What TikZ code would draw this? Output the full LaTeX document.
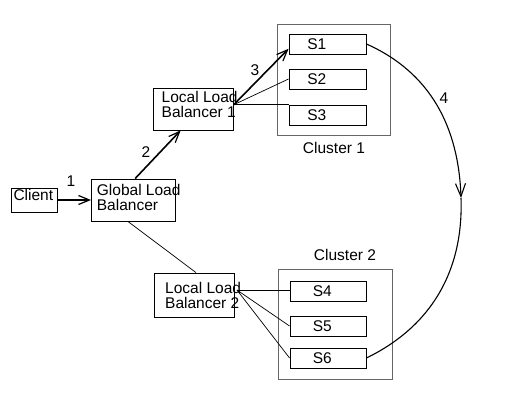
\documentclass[tikz,border=0pt]{standalone}
\usepackage{fontspec}
\setmainfont{Liberation Sans}
\usetikzlibrary{arrows.meta,calc}
\begin{document}
\begin{tikzpicture}[x=1pt,y=-1pt,
  every node/.style={font=\fontsize{15.5}{15}\selectfont},
  box/.style={draw=black,line width=0.9pt,inner sep=0pt,minimum width=#1},
  clbox/.style={draw=black!60,line width=1pt,inner sep=0pt},
  txt/.style={inner sep=0pt,align=left,anchor=north west},
  thickarr/.style={line width=1.6pt,-{Straight Barb[length=11pt,width=9pt,line width=1.2pt]}},
  thin/.style={line width=0.7pt}]
\useasboundingbox (0,0) rectangle (513,401);
% boxes
\node[box=46pt,minimum height=24pt] (client) at (34.5,200) {};
\node[box=83.5pt,minimum height=42pt] (glb) at (133.25,200) {};
\node[box=80pt,minimum height=42pt] (llb1) at (193,109) {};
\node[box=80pt,minimum height=44pt] (llb2) at (194,295) {};
\node[clbox,minimum width=113pt,minimum height=110pt] (c1) at (333.5,80) {};
\node[clbox,minimum width=114pt,minimum height=110pt] (c2) at (335,324) {};
\node[box=77pt,minimum height=20pt] (s1) at (327.5,44) {};
\node[box=77pt,minimum height=20pt] (s2) at (327.5,79) {};
\node[box=77pt,minimum height=20pt] (s3) at (327.5,115) {};
\node[box=76pt,minimum height=20pt] (s4) at (328,291) {};
\node[box=76pt,minimum height=20pt] (s5) at (328,326) {};
\node[box=76pt,minimum height=20pt] (s6) at (328,358) {};
% texts
\node[txt] (tclient) at (13.3,189.5) {Client};
\node[txt] (tglb) at (96.7,184) {Global Load\\Balancer};
\node[txt] (tllb1) at (161.5,91) {Local Load\\Balancer 1};
\node[txt] (tllb2) at (165,282.5) {Local Load\\Balancer 2};
\node[inner sep=0pt,anchor=west] (ts1) at ($(s1.west)+(18.5,0)$) {S1};
\node[inner sep=0pt,anchor=west] (ts2) at ($(s2.west)+(18.5,0)$) {S2};
\node[inner sep=0pt,anchor=west] (ts3) at ($(s3.west)+(18.5,0)$) {S3};
\node[inner sep=0pt,anchor=west] (ts4) at ($(s4.west)+(23,0)$) {S4};
\node[inner sep=0pt,anchor=west] (ts5) at ($(s5.west)+(23,0)$) {S5};
\node[inner sep=0pt,anchor=west] (ts6) at ($(s6.west)+(23,0)$) {S6};
\node[inner sep=0pt] (lc1) at (334,148) {Cluster 1};
\node[inner sep=0pt] (lc2) at (345,255) {Cluster 2};
\node[inner sep=0pt] (n1) at (71,181) {1};
\node[inner sep=0pt] (n2) at (146,152) {2};
\node[inner sep=0pt] (n3) at (255,70) {3};
\node[inner sep=0pt] (n4) at (444,98) {4};
% connectors
\draw[thickarr] (client.east) -- (glb.west);
\draw[thickarr] (glb.85) -- (llb1.240);
\coordinate (p1) at ($(llb1.east)+(0.3,-4.3)$);
\draw[thickarr] (p1) -- (s1.187);
\draw[thin] (p1) -- (s2.west);
\draw[line width=0.9pt] (p1) -- (p1 -| s3.west);
\draw[thin] (glb.256) -- (llb2.85);
\coordinate (p2) at ($(llb2.east)+(2.5,-5)$);
\draw[thin] (p2) -- (p2 -| s4.west);
\draw[thin] (p2) -- (s5.west);
\draw[thin] (p2) -- (s6.west);
\coordinate (m) at (461,198);
\draw[line width=1.1pt,-{Straight Barb[length=13pt,width=10pt,line width=1.1pt]}] (s1.east) to[out=-24,in=92] (m);
\draw[line width=1.1pt] (m) to[out=-88,in=26] (s6.east);
\end{tikzpicture}
\end{document}
